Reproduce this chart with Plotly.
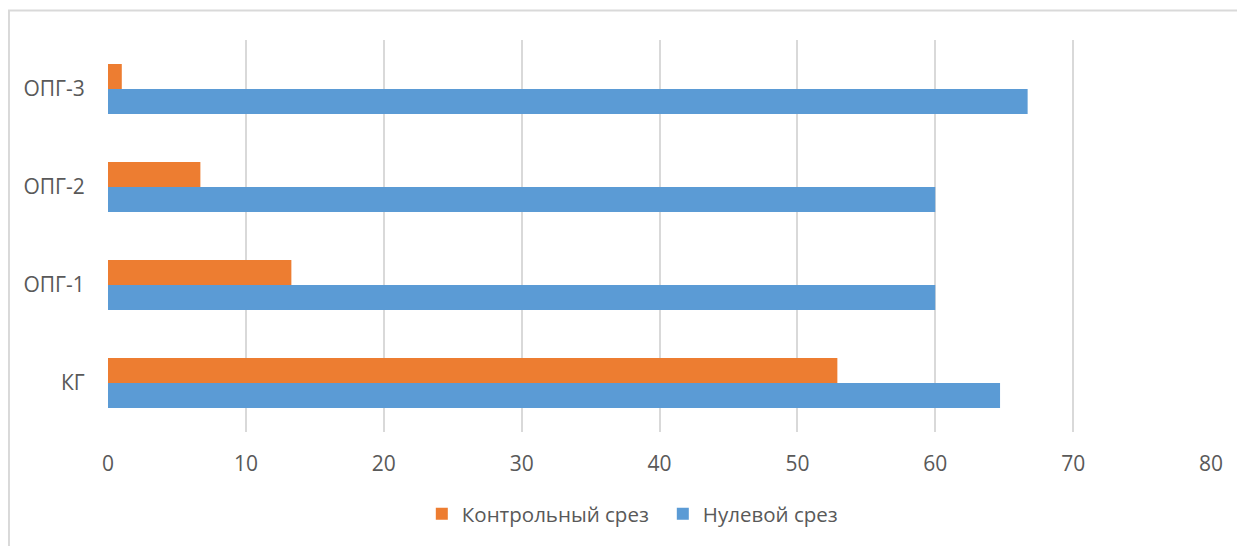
import plotly.graph_objects as go

categories = ["КГ", "ОПГ-1", "ОПГ-2", "ОПГ-3"]
zero_slice = [64.7, 60.0, 60.0, 66.7]
control_slice = [52.9, 13.3, 6.7, 1.0]
x_ticks = [0, 10, 20, 30, 40, 50, 60, 70, 80]

fig = go.Figure()
fig.add_trace(go.Bar(y=categories, x=zero_slice, orientation="h", name="Нулевой срез",
                     marker=dict(color="#5B9BD5", line=dict(width=0))))
fig.add_trace(go.Bar(y=categories, x=control_slice, orientation="h", name="Контрольный срез",
                     marker=dict(color="#ED7D31", line=dict(width=0))))

fig.update_layout(
    width=1245, height=546,
    margin=dict(l=100, r=42, t=32, b=122),
    paper_bgcolor="white", plot_bgcolor="white",
    barmode="group", bargap=0.49, bargroupgap=0,
    font=dict(family="Open Sans", size=21, color="#595959"),
    showlegend=True,
    legend=dict(orientation="h", x=0.503, xanchor="center", y=-0.209, yanchor="middle",
                traceorder="reversed", font=dict(size=20.5, color="#595959"),
                itemwidth=30, entrywidth=196),
    xaxis=dict(range=[0, 80], tickvals=x_ticks, showgrid=True, gridcolor="#d9d9d9",
               gridwidth=1.5, zeroline=False, showline=False,
               ticks="outside", ticklen=13, tickcolor="rgba(0,0,0,0)", fixedrange=True),
    yaxis=dict(showgrid=False, zeroline=False, showline=False,
               ticks="outside", ticklen=18, tickcolor="rgba(0,0,0,0)", fixedrange=True),
    shapes=[dict(type="rect", xref="paper", yref="paper",
                 x0=-0.0898, x1=1.06, y0=-0.35, y1=1.075,
                 line=dict(color="#d9d9d9", width=2), fillcolor="rgba(0,0,0,0)", layer="below")],
)

fig.write_html("out.html")
